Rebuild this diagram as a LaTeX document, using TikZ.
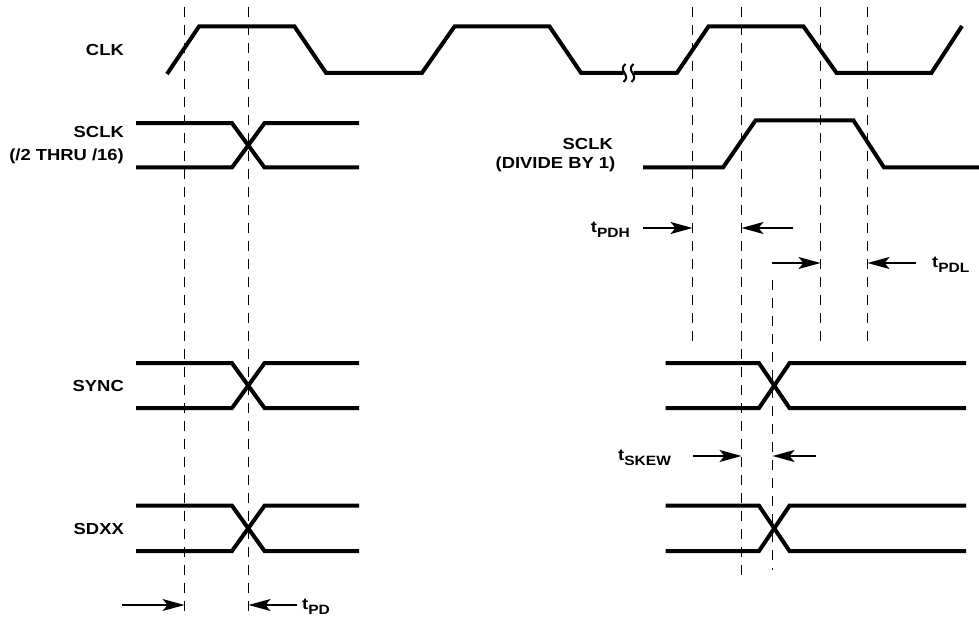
\documentclass[tikz,border=0pt]{standalone}
\usepackage{fontspec}
\newfontfamily\labfont{Liberation Sans Bold}[FakeStretch=1.15]
\usetikzlibrary{arrows.meta}
\newcommand\tsub[1]{t\raisebox{-5pt}{\fontsize{13.5}{13.5}\selectfont #1}}
\begin{document}
\begin{tikzpicture}[x=1pt,y=-1pt,
  sig/.style={line width=4pt},
  guide/.style={line width=1.4pt, dash pattern=on 10pt off 8pt},
  dim/.style={line width=1.6pt, -{Stealth[length=22pt,width=12pt,inset=5pt]}},
  brk/.style={line width=2pt},
  lab/.style={font=\labfont\fontsize{16}{18}\selectfont, inner sep=0pt},
]
\useasboundingbox (0,0) rectangle (979,617);

% dashed guide lines
\draw[guide] (184.5,7) -- (184.5,617);
\draw[guide] (248.5,7) -- (248.5,617);
\draw[guide] (692.5,7) -- (692.5,342);
\draw[guide] (741.5,7) -- (741.5,582);
\draw[guide] (820.5,7) -- (820.5,346);
\draw[guide] (867.5,7) -- (867.5,341);
\draw[guide] (772.5,280) -- (772.5,570);

% CLK
\draw[sig] (167,74) -- (199,26.5) -- (294.5,26.5) -- (326,72.8) -- (422,72.8) -- (454.5,26.5)
  -- (549.5,26.5) -- (581,72.8) -- (623.5,72.8);
\draw[sig] (633.5,72.8) -- (677,72.8) -- (708.5,26.5) -- (803.5,26.5) -- (836.5,72.8)
  -- (931.5,72.8) -- (962,26);
\draw[brk] (625.5,64) .. controls (617,71) and (632,75) .. (623.5,82);
\draw[brk] (633.5,64) .. controls (625,71) and (640,75) .. (631.5,82);

% SCLK left
\draw[sig] (136,123.2) -- (232,123.2) -- (264.5,167.5) -- (359,167.5);
\draw[sig] (136,167.5) -- (232,167.5) -- (264.5,123.2) -- (359,123.2);
% SYNC left
\draw[sig] (136,363.2) -- (232,363.2) -- (264.5,408) -- (359,408);
\draw[sig] (136,408) -- (232,408) -- (264.5,363.2) -- (359,363.2);
% SDXX left
\draw[sig] (136,505.7) -- (232,505.7) -- (264.5,551) -- (359,551);
\draw[sig] (136,551) -- (232,551) -- (264.5,505.7) -- (359,505.7);

% SCLK divide by 1
\draw[sig] (643,167.5) -- (723,167.5) -- (755.5,120.5) -- (853.5,120.5) -- (884,167.5) -- (979,167.5);
% SYNC right
\draw[sig] (665.5,363.2) -- (759,363.2) -- (789.5,408) -- (966,408);
\draw[sig] (665.5,408) -- (759,408) -- (789.5,363.2) -- (966,363.2);
% SDXX right
\draw[sig] (665.5,505.7) -- (759,505.7) -- (789.5,551) -- (966,551);
\draw[sig] (665.5,551) -- (759,551) -- (789.5,505.7) -- (966,505.7);

% labels
\node[lab, anchor=base east] (clk) at (124,56) {CLK};
\node[lab, anchor=base east] (sclkA) at (124,137.3) {SCLK};
\node[lab, anchor=base east] (sclkB) at (124,161) {(/2 THRU /16)};
\node[lab, anchor=base east] (sync) at (124,391.5) {SYNC};
\node[lab, anchor=base east] (sdxx) at (124,534.5) {SDXX};
\node[lab, anchor=base east] (sclkC) at (613,149.3) {SCLK};
\node[lab, anchor=base east] (sclkD) at (615.5,168.3) {(DIVIDE BY 1)};

\node[lab, anchor=base east] (tpdh) at (630,232.7) {\tsub{PDH}};
\node[lab, anchor=base west] (tpdl) at (932,268) {\tsub{PDL}};
\node[lab, anchor=base west] (tskew) at (618,460.5) {\tsub{SKEW}};
\node[lab, anchor=base west] (tpd) at (302,609.5) {\tsub{PD}};

% dimension arrows
\coordinate (pdhA) at (643,228);   \coordinate (pdhB) at (692.5,228);
\coordinate (pdhC) at (793,228);   \coordinate (pdhD) at (741.5,228);
\coordinate (pdlA) at (772,263);   \coordinate (pdlB) at (820.5,263);
\coordinate (pdlC) at (916,263);   \coordinate (pdlD) at (867.5,263);
\coordinate (skA) at (693,456);    \coordinate (skB) at (741.5,456);
\coordinate (skC) at (816,456);    \coordinate (skD) at (772.5,456);
\coordinate (pdA) at (122,605);    \coordinate (pdB) at (184.5,605);
\coordinate (pdC) at (297,605);    \coordinate (pdD) at (248.5,605);
\draw[dim] (pdhA) -- (pdhB);
\draw[dim] (pdhC) -- (pdhD);
\draw[dim] (pdlA) -- (pdlB);
\draw[dim] (pdlC) -- (pdlD);
\draw[dim] (skA) -- (skB);
\draw[dim] (skC) -- (skD);
\draw[dim] (pdA) -- (pdB);
\draw[dim] (pdC) -- (pdD);
\end{tikzpicture}
\end{document}
